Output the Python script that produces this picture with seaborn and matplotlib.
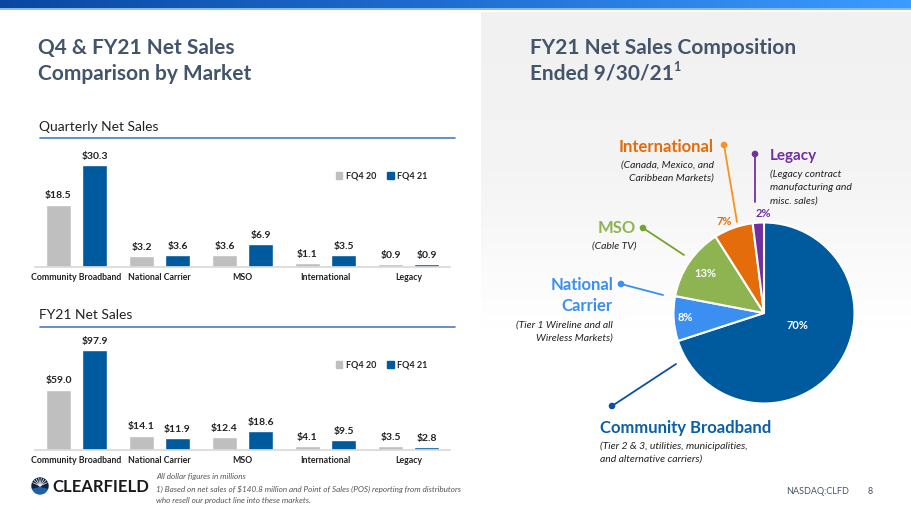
import numpy as np
import pandas as pd
import matplotlib
matplotlib.use("Agg")
import matplotlib.pyplot as plt
import seaborn as sns
from matplotlib.patches import Circle, Wedge, Patch
from matplotlib.colors import LinearSegmentedColormap

# ---- data
markets = ["Community Broadband", "National Carrier", "MSO", "International", "Legacy"]
periods = ["FQ4 20", "FQ4 21"]
q4_fy20 = [18.5, 3.2, 3.6, 1.1, 0.9]
q4_fy21 = [30.3, 3.6, 6.9, 3.5, 0.9]
fy20 = [59.0, 14.1, 12.4, 4.1, 3.5]
fy21 = [97.9, 11.9, 18.6, 9.5, 2.8]
pie_share = [70, 8, 13, 7, 2]   # CB, NC, MSO, Intl, Legacy (clockwise from top)

GRAY = "#bfbfbf"
BLUE = "#005a9e"
pie_colors = ["#005a9e", "#3a8ff0", "#8db451", "#e46c0a", "#7030a0"]
TITLE = "#44546a"

sns.set_theme(style="white")
plt.rcParams["font.family"] = ["Lato", "DejaVu Sans"]

fig = plt.figure(figsize=(9.11, 5.12), dpi=100)
fig.patch.set_facecolor("white")

# background canvas in pixel coords
bg = fig.add_axes([0, 0, 1, 1])
bg.set_xlim(0, 911)
bg.set_ylim(512, 0)
bg.axis("off")

# top gradient strip
top_cmap = LinearSegmentedColormap.from_list("top", ["#0a48a0", "#1f6fd0", "#3b9cff"])
bg.imshow(np.linspace(0, 1, 256).reshape(1, -1), cmap=top_cmap, aspect="auto",
          extent=(0, 911, 8, 0), zorder=1)
bg.fill_between([0, 911], 8, 10, color="#8db8ea", zorder=1, lw=0)

# right panel gray fade
gray_cmap = LinearSegmentedColormap.from_list("fade", ["#f1f1f1", "#f4f4f4", "#ffffff"])
bg.imshow(np.linspace(0, 1, 256).reshape(-1, 1), cmap=gray_cmap, aspect="auto",
          extent=(481, 911, 330, 12), zorder=0)

# titles
bg.text(38, 48, "Q4 & FY21 Net Sales", fontsize=15, fontweight="bold", color=TITLE, va="center")
bg.text(38, 74, "Comparison by Market", fontsize=15, fontweight="bold", color=TITLE, va="center")
bg.text(530, 48, "FY21 Net Sales Composition", fontsize=15, fontweight="bold", color=TITLE, va="center")
t_end = bg.text(530, 74, "Ended 9/30/21", fontsize=15, fontweight="bold", color=TITLE, va="center")
fig.canvas.draw()
x_end = bg.transData.inverted().transform(t_end.get_window_extent().p1)[0]
bg.text(x_end - 1, 67, "1", fontsize=9, fontweight="bold", color=TITLE, va="center")

# section headers with rule
for y_txt, y_line, txt in [(127, 138, "Quarterly Net Sales"), (315, 327, "FY21 Net Sales")]:
    bg.text(39, y_txt, txt, fontsize=10, color="#222222", va="center")
    bg.plot([40, 455], [y_line, y_line], color="#4a7bc4", lw=1.2)


def market_bars(rect, ymax, prev, curr, legend_xy):
    ax = fig.add_axes(rect)
    df = pd.DataFrame({
        "market": markets * 2,
        "period": [periods[0]] * len(markets) + [periods[1]] * len(markets),
        "sales": prev + curr,
    })
    sns.barplot(data=df, x="market", y="sales", hue="period", palette=[GRAY, BLUE],
                width=0.87, gap=0.33, saturation=1, legend=False, ax=ax)
    for cont in ax.containers:
        ax.bar_label(cont, labels=[f"${v:.1f}" for v in cont.datavalues],
                     padding=3, fontsize=7.5, fontweight="bold", color="#222222")
    ax.set_ylim(0, ymax)
    ax.set_xlim(-0.5, len(markets) - 0.5)
    ax.set_facecolor("none")
    ax.set_xlabel("")
    ax.set_ylabel("")
    ax.set_yticks([])
    ax.tick_params(axis="x", length=0, pad=4)
    for lab in ax.get_xticklabels():
        lab.set_fontsize(6.3)
        lab.set_fontweight("bold")
        lab.set_color("#222222")
    sns.despine(ax=ax, left=True)
    ax.spines["bottom"].set_color("#d9d9d9")
    handles = [Patch(color=GRAY), Patch(color=BLUE)]
    ax.legend(handles, periods, loc="center left", ncol=2, frameon=False,
              bbox_to_anchor=(legend_xy[0] / 911, 1 - legend_xy[1] / 512),
              bbox_transform=fig.transFigure, handlelength=0.7, handleheight=0.7,
              handletextpad=0.4, columnspacing=1.2, prop={"weight": "bold", "size": 6.5})
    return ax


market_bars([35 / 911, 245 / 512, 415 / 911, 135 / 512], 40, q4_fy20, q4_fy21, (328, 176))
market_bars([35 / 911, 62 / 512, 415 / 911, 133 / 512], 130, fy20, fy21, (328, 365))

# ---- pie
cx, cy, R = 764, 313, 90.5
pax = fig.add_axes([(cx - 100) / 911, (512 - cy - 100) / 512, 200 / 911, 200 / 512])
wedges, _ = pax.pie(pie_share, colors=pie_colors, startangle=90, counterclock=False,
                    radius=R / 100, wedgeprops=dict(edgecolor="white", linewidth=1.5))
pax.set_xlim(-1, 1)
pax.set_ylim(-1, 1)
pax.set_facecolor("none")
pax.axis("off")

pct_r = [0.40, 0.87, 0.78, 1.10, 1.10]
pct_nudge = [15, 0, 0, 4, -3]
pct_col = ["white", "white", "white", "#e46c0a", "#7030a0"]
for w, share, r, d, c in zip(wedges, pie_share, pct_r, pct_nudge, pct_col):
    ang = np.deg2rad((w.theta1 + w.theta2) / 2 + d)
    pax.text(r * R / 100 * np.cos(ang), r * R / 100 * np.sin(ang), f"{share}%",
             ha="center", va="center", fontsize=8, fontweight="bold", color=c)

# leader lines with dots
leaders = [
    ((724, 145), (737, 222), "#f7931e"),
    ((755, 154), (755, 202), "#7030a0"),
    ((643, 228), (684, 255), "#78a22f"),
    ((621, 284), (663, 295), "#3a8ff0"),
    ((612, 406), (676, 364), "#0b4fa8"),
]
for (x0, y0), (x1, y1), c in leaders:
    bg.plot([x0, x1], [y0, y1], color=c, lw=1.3, zorder=3)
    bg.add_patch(Circle((x0, y0), 2.6, color=c, zorder=4))

lab_kw = dict(fontweight="bold", va="center")
sub_kw = dict(fontstyle="italic", fontsize=7.5, color="#222222", va="center")
bg.text(714, 147, "International", fontsize=12, color="#e46c0a", ha="right", **lab_kw)
bg.text(714, 165, "(Canada, Mexico, and", ha="right", **sub_kw)
bg.text(714, 178, "Caribbean Markets)", ha="right", **sub_kw)

bg.text(770, 156, "Legacy", fontsize=11, color="#7030a0", ha="left", **lab_kw)
bg.text(770, 174, "(Legacy contract", ha="left", **sub_kw)
bg.text(770, 187, "manufacturing and", ha="left", **sub_kw)
bg.text(770, 201, "misc. sales)", ha="left", **sub_kw)

bg.text(636, 228, "MSO", fontsize=12, color="#8db451", ha="right", **lab_kw)
bg.text(636, 246, "(Cable TV)", ha="right", **sub_kw)

bg.text(613, 285, "National", fontsize=12, color="#3a8ff0", ha="right", **lab_kw)
bg.text(613, 306, "Carrier", fontsize=12, color="#3a8ff0", ha="right", **lab_kw)
bg.text(613, 325, "(Tier 1 Wireline and all", ha="right", **sub_kw)
bg.text(613, 338, "Wireless Markets)", ha="right", **sub_kw)

bg.text(600, 428, "Community Broadband", fontsize=12, color="#0b5ea8", ha="left", **lab_kw)
bg.text(600, 446, "(Tier 2 & 3, utilities, municipalities,", ha="left", **sub_kw)
bg.text(600, 459, "and alternative carriers)", ha="left", **sub_kw)

bg.text(786, 492, "NASDAQ:CLFD", fontsize=6.5, color=TITLE, va="center")
bg.text(868, 492, "8", fontsize=6.5, color=TITLE, va="center")

# footnotes
foot_kw = dict(fontstyle="italic", fontsize=5.9, color="#555555", va="center")
bg.text(156, 477, "All dollar figures in millions", **foot_kw)
bg.text(156, 489, "1) Based on net sales of $140.8 million and Point of Sales (POS) reporting from distributors", **foot_kw)
bg.text(156, 500, "who resell our product line into these markets.", **foot_kw)

# logo
bg.add_patch(Wedge((40, 486), 8, 200, 340, color="#0d2240", zorder=3))
bg.add_patch(Wedge((40, 486), 8, 15, 165, color="#1f5fa8", zorder=3))
for a in np.linspace(25, 155, 8):
    t = np.deg2rad(a)
    bg.plot([40, 40 + 8 * np.cos(t)], [486, 486 - 8 * np.sin(t)], color="white", lw=0.5, zorder=4)
bg.add_patch(Wedge((40, 486), 8, 165, 200, color="#0d2240", zorder=3))
bg.add_patch(Wedge((40, 486), 8, 340, 375, color="#0d2240", zorder=3))
bg.text(52, 487, "CLEARFIELD", fontsize=12, fontweight="bold", color="#1a1a1a", va="center")

fig.savefig("out.png", dpi=100)
